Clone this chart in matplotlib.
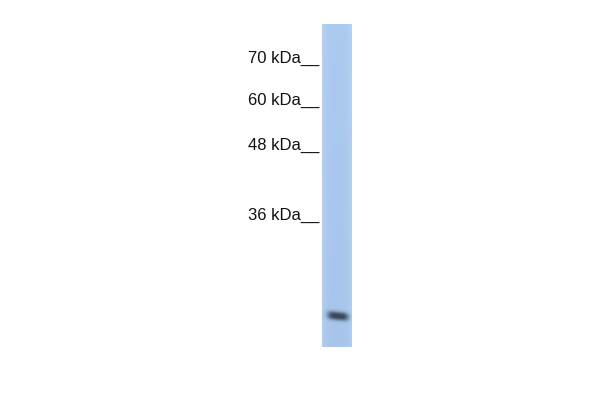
import numpy as np
import matplotlib
matplotlib.use("Agg")
import matplotlib.pyplot as plt

# Marker ladder (kDa) and their vertical positions on the blot (pixel rows)
marker_labels = ["70 kDa", "60 kDa", "48 kDa", "36 kDa"]
marker_rows = [58, 100, 145, 215]

# Lane extent (pixel coordinates) and band
lane_x = [322, 352]
lane_y = [24, 347]
band_center = [338, 316.5]
band_size = [10.5, 4.2]
band_tilt = 0.10

fig = plt.figure(figsize=(6, 4), dpi=100)
ax = fig.add_axes([0, 0, 1, 1])
ax.set_xlim(0, 600)
ax.set_ylim(400, 0)
ax.axis("off")

# Lane background with a slight shading
yy = np.linspace(0, 1, 200)[:, None]
xx = np.linspace(0, 1, 30)[None, :]
base = np.array([0.67, 0.79, 0.94])
edge = np.array([0.71, 0.82, 0.95])
w = (np.abs(xx - 0.5) * 2) ** 3
img = base[None, None, :] * (1 - w[..., None]) + edge[None, None, :] * w[..., None]
img = np.broadcast_to(img, (200, 30, 3)).copy()
img *= (1 - 0.02 * yy)[..., None]
ax.imshow(img, extent=[lane_x[0], lane_x[1], lane_y[1], lane_y[0]],
          aspect="auto", interpolation="bilinear", zorder=1)

# Band: a soft dark smear
gx = np.linspace(lane_x[0], lane_x[1], 120)
gy = np.linspace(band_center[1] - 14, band_center[1] + 14, 120)
GX, GY = np.meshgrid(gx, gy)
dy = GY - (band_center[1] + band_tilt * (GX - band_center[0]))
dx = GX - band_center[0]
inten = np.exp(-(np.abs(dx) / band_size[0]) ** 4 - (np.abs(dy) / band_size[1]) ** 2.5)
dark = np.array([0.19, 0.25, 0.31])
rgba = np.zeros(GX.shape + (4,))
rgba[..., :3] = dark
rgba[..., 3] = np.clip(inten * 1.0, 0, 0.92)
ax.imshow(rgba, extent=[gx[0], gx[-1], gy[-1], gy[0]], aspect="auto",
          interpolation="bilinear", zorder=2)

# Marker labels with attached underscores
for lab, row in zip(marker_labels, marker_rows):
    ax.text(319, row + 5, lab + "__", ha="right", va="baseline", fontsize=12,
            family="Liberation Sans", color="#111111")

fig.savefig("out.png", dpi=100, facecolor="white")
